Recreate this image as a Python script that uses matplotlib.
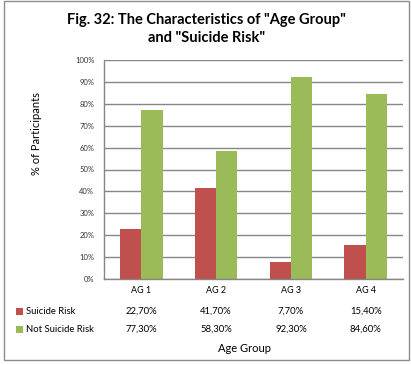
import matplotlib
matplotlib.use('Agg')
import matplotlib.pyplot as plt
from matplotlib.patches import Rectangle
from matplotlib.transforms import blended_transform_factory
import numpy as np

# Data
categories = ['AG 1', 'AG 2', 'AG 3', 'AG 4']
suicide_risk = [22.7, 41.7, 7.7, 15.4]
not_suicide_risk = [77.3, 58.3, 92.3, 84.6]
suicide_labels = ['22,70%', '41,70%', '7,70%', '15,40%']
not_suicide_labels = ['77,30%', '58,30%', '92,30%', '84,60%']
series_names = ['Suicide Risk', 'Not Suicide Risk']
yticks = [0, 10, 20, 30, 40, 50, 60, 70, 80, 90, 100]

RED = '#C0504D'
GREEN = '#9BBB59'
GRID = '#868686'

plt.rcParams['font.family'] = ['Lato', 'DejaVu Sans']

W, H = 411, 365
fig = plt.figure(figsize=(W / 100, H / 100), dpi=100)

# Outer chart border
fig.patches.append(Rectangle((4 / W, 5 / H), 405 / W, 359 / H, transform=fig.transFigure,
                             fill=False, edgecolor='#8c8c8c', linewidth=1.0))

# Plot area in pixel coordinates
left, right, top, bottom = 104, 403, 60, 279
ax = fig.add_axes([left / W, 1 - bottom / H, (right - left) / W, (bottom - top) / H])

x = np.arange(len(categories))
bw = 0.285
ax.bar(x - bw / 2, suicide_risk, bw, color=RED, zorder=2)
ax.bar(x + bw / 2, not_suicide_risk, bw, color=GREEN, zorder=2)

ax.set_xlim(-0.5, len(categories) - 0.5)
ax.set_ylim(0, 100)
ax.set_yticks(yticks)
ax.set_yticklabels([f'{t}%' for t in yticks], fontsize=5.5, color='#333333')
ax.yaxis.grid(True, color=GRID, linewidth=1.0, zorder=0)
ax.set_axisbelow(True)
ax.set_xticks(x)
ax.set_xticklabels(categories, fontsize=6.5)
ax.tick_params(axis='y', length=0, pad=7)
ax.tick_params(axis='x', length=0, pad=5)
for s in ['top', 'right']:
    ax.spines[s].set_visible(False)
for s in ['left', 'bottom']:
    ax.spines[s].set_color(GRID)
    ax.spines[s].set_linewidth(1.0)

# Data table below the axis
trans = blended_transform_factory(ax.transData, fig.transFigure)
rows = [(suicide_labels, RED, series_names[0], 311), (not_suicide_labels, GREEN, series_names[1], 329)]
for labels, col, name, ypx in rows:
    yf = 1 - ypx / H
    for xi, lab in zip(x, labels):
        ax.text(xi, yf, lab, transform=trans, ha='center', va='center', fontsize=6.8)
    fig.patches.append(Rectangle((16 / W, yf - 3.5 / H), 7 / W, 7 / H, transform=fig.transFigure,
                                 facecolor=col, edgecolor='none'))
    fig.text(26 / W, yf, name, ha='left', va='center', fontsize=6.8)

# Titles
fig.text(0.5 * (4 + 409) / W, 1 - 29 / H, 'Fig. 32: The Characteristics of "Age Group"\nand "Suicide Risk"',
         ha='center', va='center', fontsize=10.5, fontweight='bold', linespacing=1.45)
fig.text(36 / W, 1 - 134 / H, '% of Participants', rotation=90, ha='center', va='center',
         fontsize=8)
fig.text(244 / W, 1 - 349 / H, 'Age Group', ha='center', va='center', fontsize=8)

plt.savefig('out.png', dpi=100)
